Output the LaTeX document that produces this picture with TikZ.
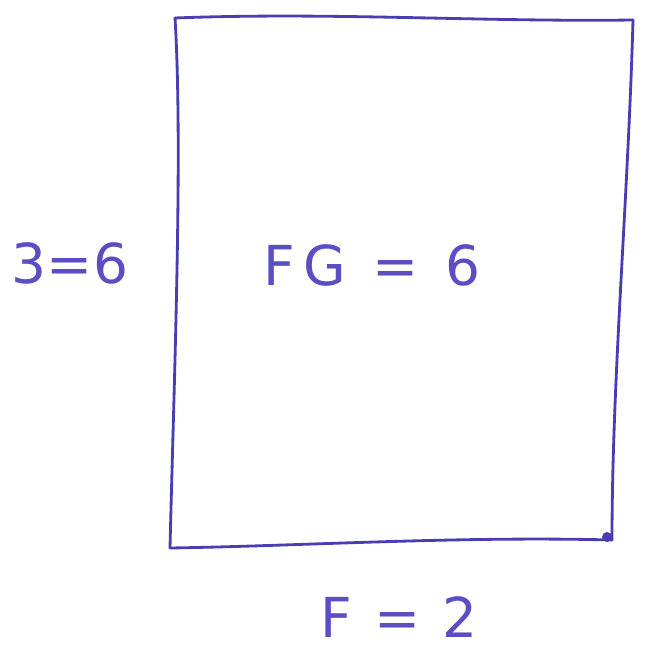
\documentclass[tikz,border=0pt]{standalone}
\usepackage{fontspec}
\setmainfont{DejaVu Sans}
\usepackage{tikz}
\usetikzlibrary{calc}
\definecolor{ink}{HTML}{4A3CB2}
\definecolor{inksoft}{HTML}{5B4EC4}
\tikzset{
  sketchline/.style={line width=2.4pt,color=ink,line cap=round,line join=round},
  sketchlabel/.style={font=\fontsize{47}{52}\selectfont,text=inksoft,inner sep=0pt,anchor=base},
}
\begin{document}
\begin{tikzpicture}[x=0.03cm,y=-0.03cm]
  \useasboundingbox (0,0) rectangle (644,652);
  % corners of the hand-drawn frame
  \coordinate (tl) at (175,18);
  \coordinate (tr) at (633,20);
  \coordinate (br) at (612,540);
  \coordinate (bl) at (170,548);

  \draw[sketchline] (tl) .. controls (330,12) and (480,22) .. (tr);
  \draw[sketchline] (tr) .. controls (628,200) and (612,380) .. (br);
  \draw[sketchline] (br) .. controls (460,536) and (300,546) .. (bl);
  \draw[sketchline] (bl) .. controls (174,380) and (183,150) .. (tl);
  \fill[ink] (607,537) circle (5);

  \node[sketchlabel] (lside) at (70,283) {3=6};
  \node[sketchlabel,font=\fontsize{47}{52}\selectfont\addfontfeatures{LetterSpace=16}] (area) at (372,285) {FG = 6};
  \node[sketchlabel,font=\fontsize{47}{52}\selectfont\addfontfeatures{LetterSpace=8}] (bside) at (399,637) {F = 2};
\end{tikzpicture}
\end{document}
